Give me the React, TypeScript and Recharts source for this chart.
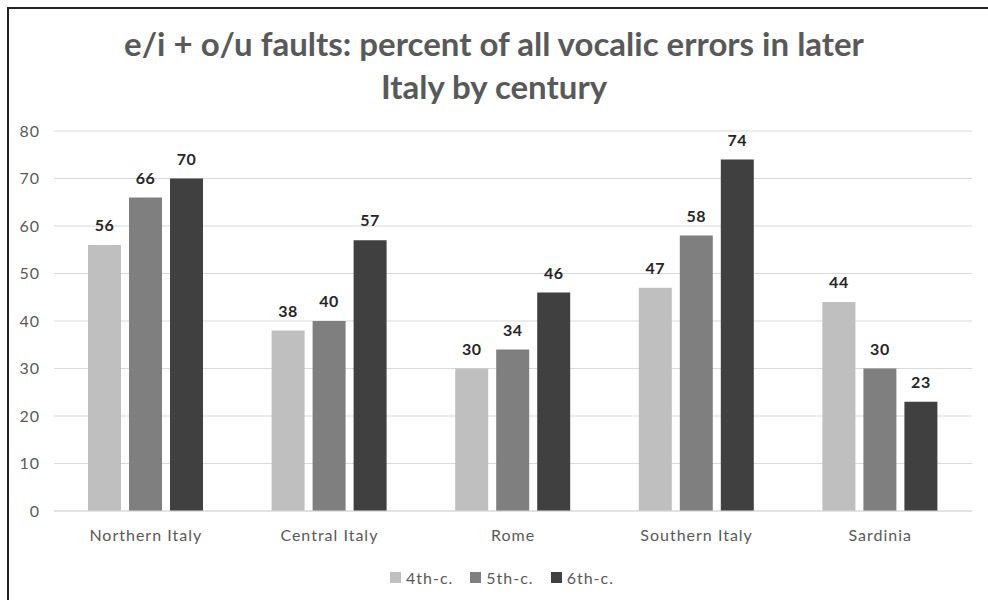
import React from "react";
import { BarChart, Bar, XAxis, YAxis, CartesianGrid, LabelList } from "recharts";

const regions = ["Northern Italy", "Central Italy", "Rome", "Southern Italy", "Sardinia"];
const c4 = [56, 38, 30, 47, 44];
const c5 = [66, 40, 34, 58, 30];
const c6 = [70, 57, 46, 74, 23];
const yTicks = [0, 10, 20, 30, 40, 50, 60, 70, 80];

const SERIES = [
  { key: "c4", name: "4th-c.", color: "#BFBFBF" },
  { key: "c5", name: "5th-c.", color: "#7F7F7F" },
  { key: "c6", name: "6th-c.", color: "#404040" },
];

const data = regions.map((region, i) => ({ region, c4: c4[i], c5: c5[i], c6: c6[i] }));

const FONT = "Lato, 'Open Sans', sans-serif";
const tickStyle = { fill: "#595959", fontSize: 16, fontFamily: FONT, letterSpacing: 1 };

export default function App() {
  return (
    <div
      style={{
        position: "fixed",
        left: 0,
        top: 0,
        width: 988,
        height: 600,
        background: "#fff",
        fontFamily: FONT,
        overflow: "hidden",
      }}
    >
      {/* frame: only top and left edges show in the crop */}
      <div
        style={{
          position: "absolute",
          left: 7,
          top: 7,
          width: 1000,
          height: 620,
          borderTop: "2px solid #222",
          borderLeft: "2px solid #222",
        }}
      />
      <div
        style={{
          position: "absolute",
          left: 0,
          top: 22,
          width: 988,
          textAlign: "center",
          fontSize: 33,
          fontWeight: 700,
          color: "#595959",
          lineHeight: "43px",
        }}
      >
        e/i + o/u faults: percent of all vocalic errors in later
        <br />
        Italy by century
      </div>
      <BarChart
        width={988}
        height={600}
        data={data}
        margin={{ top: 131, right: 16, bottom: 59, left: 0 }}
        barSize={33}
        barGap={8}
      >
        <CartesianGrid vertical={false} stroke="#D9D9D9" />
        <XAxis
          dataKey="region"
          height={30}
          axisLine={{ stroke: "#D9D9D9" }}
          tickLine={false}
          tick={tickStyle}
          tickMargin={13}
        />
        <YAxis
          width={54}
          domain={[0, 80]}
          ticks={yTicks}
          axisLine={false}
          tickLine={false}
          tick={tickStyle}
          tickMargin={8}
        />
        {SERIES.map((s) => (
          <Bar key={s.key} dataKey={s.key} name={s.name} fill={s.color} isAnimationActive={false}>
            <LabelList
              dataKey={s.key}
              position="top"
              offset={14}
              style={{ fill: "#262626", fontSize: 16, fontWeight: 700, fontFamily: FONT, letterSpacing: 0.5 }}
            />
          </Bar>
        ))}
      </BarChart>
      <div
        style={{
          position: "absolute",
          left: 8,
          top: 568,
          width: 988,
          display: "flex",
          justifyContent: "center",
          gap: 17,
          fontSize: 16,
          letterSpacing: 1,
          color: "#595959",
        }}
      >
        {SERIES.map((s) => (
          <div key={s.key} style={{ display: "flex", alignItems: "center" }}>
            <span style={{ display: "inline-block", width: 11, height: 11, background: s.color, marginRight: 5 }} />
            <span>{s.name}</span>
          </div>
        ))}
      </div>
    </div>
  );
}
